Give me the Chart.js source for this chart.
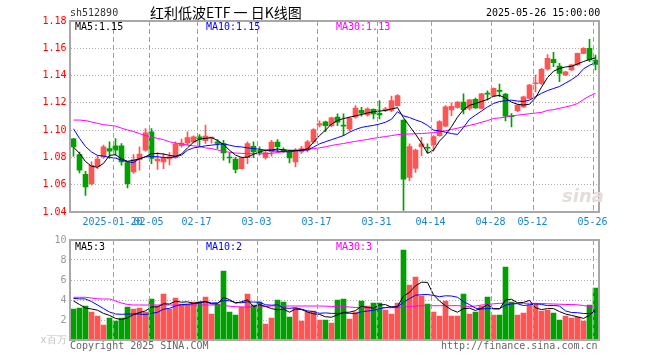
<!DOCTYPE html>
<html>
<head>
<meta charset="utf-8">
<title>红利低波ETF 日K线图</title>
<script src="https://cdn.jsdelivr.net/npm/chart.js@4.4.1/dist/chart.umd.min.js"></script>
<style>
  html, body { margin: 0; padding: 0; background: #fff; }
  #wrap { position: relative; width: 660px; height: 360px; overflow: hidden; font: 10px "DejaVu Sans Mono", monospace; }
  canvas { position: absolute; left: 0; }
  .txt { position: absolute; white-space: nowrap; line-height: 12px; }
</style>
</head>
<body>
<div id="wrap">
  <canvas id="kline" width="660" height="232" style="top:0"></canvas>
  <canvas id="vol" width="660" height="130" style="top:230px"></canvas>
  <div class="txt" style="left:562px;top:186px;font:italic bold 18px 'DejaVu Sans',sans-serif;line-height:20px;color:#e6dcdc">sina</div>
  <div class="txt" style="left:70px;top:7px;color:#333">sh512890</div>
  <div class="txt" style="left:150px;top:3px;font:14px 'Noto Sans CJK SC',sans-serif;line-height:18px;color:#000">红利低波ETF 一 日K线图</div>
  <div class="txt" style="left:486px;top:7px;color:#000">2025-05-26 15:00:00</div>
  <div class="txt" style="left:75px;top:21px;color:#000">MA5:1.15</div>
  <div class="txt" style="left:206px;top:21px;color:#0000ff">MA10:1.15</div>
  <div class="txt" style="left:336px;top:21px;color:#ff00ff">MA30:1.13</div>
  <div class="txt" style="left:75px;top:241px;color:#000">MA5:3</div>
  <div class="txt" style="left:206px;top:241px;color:#0000ff">MA10:2</div>
  <div class="txt" style="left:336px;top:241px;color:#ff00ff">MA30:3</div>
  <div class="txt" style="left:70px;top:340px;color:#666">Copyright 2025 SINA.COM</div>
  <div class="txt" style="left:441px;top:340px;color:#666">http://finance.sina.com.cn</div>
</div>
<script>
// trading days shown on the chart
const dates = [
  '2025-01-09','2025-01-10','2025-01-13','2025-01-14','2025-01-15','2025-01-16','2025-01-17','2025-01-20','2025-01-21','2025-01-22',
  '2025-01-23','2025-01-24','2025-01-27','2025-02-05','2025-02-06','2025-02-07','2025-02-10','2025-02-11','2025-02-12','2025-02-13',
  '2025-02-14','2025-02-17','2025-02-18','2025-02-19','2025-02-20','2025-02-21','2025-02-24','2025-02-25','2025-02-26','2025-02-27',
  '2025-02-28','2025-03-03','2025-03-04','2025-03-05','2025-03-06','2025-03-07','2025-03-10','2025-03-11','2025-03-12','2025-03-13',
  '2025-03-14','2025-03-17','2025-03-18','2025-03-19','2025-03-20','2025-03-21','2025-03-24','2025-03-25','2025-03-26','2025-03-27',
  '2025-03-28','2025-03-31','2025-04-01','2025-04-02','2025-04-03','2025-04-07','2025-04-08','2025-04-09','2025-04-10','2025-04-11',
  '2025-04-14','2025-04-15','2025-04-16','2025-04-17','2025-04-18','2025-04-21','2025-04-22','2025-04-23','2025-04-24','2025-04-25',
  '2025-04-28','2025-04-29','2025-04-30','2025-05-06','2025-05-07','2025-05-08','2025-05-09','2025-05-12','2025-05-13','2025-05-14',
  '2025-05-15','2025-05-16','2025-05-19','2025-05-20','2025-05-21','2025-05-22','2025-05-23','2025-05-26'
];
const tickDates = ['2025-01-20','2025-02-05','2025-02-17','2025-03-03','2025-03-17','2025-03-31','2025-04-14','2025-04-28','2025-05-12','2025-05-26'];
const tickLabels = ['2025-01-20','02-05','02-17','03-03','03-17','03-31','04-14','04-28','05-12','05-26'];

const opens = [
  1.0936,1.0821,1.0677,1.0608,1.0735,1.0804,1.0865,1.0885,1.0885,1.0762,
  1.0694,1.0784,1.0853,1.0988,1.0775,1.0767,1.0790,1.0799,1.0887,1.0907,
  1.0914,1.0951,1.0922,1.0942,1.0914,1.0902,1.0800,1.0787,1.0718,1.0799,
  1.0882,1.0853,1.0799,1.0841,1.0912,1.0858,1.0841,1.0767,1.0841,1.0853,
  1.0914,1.1037,1.1061,1.1032,1.1095,1.1038,1.1009,1.1095,1.1146,1.1112,
  1.1153,1.1124,1.1144,1.1144,1.1180,1.1074,1.0654,1.0720,1.0879,1.0872,
  1.0894,1.0960,1.1030,1.1149,1.1166,1.1205,1.1159,1.1225,1.1160,1.1268,
  1.1250,1.1288,1.1264,1.1102,1.1142,1.1171,1.1233,1.1340,1.1343,1.1448,
  1.1519,1.1470,1.1404,1.1441,1.1478,1.1563,1.1600,1.1514
];
const highs = [
  1.0940,1.0840,1.0699,1.0767,1.0811,1.0890,1.0914,1.0939,1.0902,1.0767,
  1.0821,1.0878,1.1012,1.1012,1.0836,1.0828,1.0835,1.0914,1.0935,1.0988,
  1.0958,1.0968,1.1037,1.0950,1.0931,1.0926,1.0833,1.0800,1.0802,1.0914,
  1.0914,1.0877,1.0848,1.0926,1.0931,1.0870,1.0853,1.0865,1.0882,1.0926,
  1.1012,1.1069,1.1066,1.1095,1.1119,1.1120,1.1095,1.1180,1.1168,1.1163,
  1.1156,1.1217,1.1168,1.1249,1.1261,1.1074,1.0899,1.0862,1.0948,1.0899,
  1.0960,1.1070,1.1180,1.1200,1.1210,1.1266,1.1225,1.1235,1.1270,1.1289,
  1.1310,1.1338,1.1270,1.1122,1.1190,1.1250,1.1335,1.1404,1.1453,1.1553,
  1.1571,1.1490,1.1432,1.1480,1.1565,1.1605,1.1666,1.1551
];
const lows = [
  1.0809,1.0686,1.0522,1.0596,1.0718,1.0792,1.0792,1.0816,1.0743,1.0576,
  1.0682,1.0706,1.0846,1.0755,1.0713,1.0718,1.0745,1.0792,1.0875,1.0890,
  1.0907,1.0878,1.0902,1.0905,1.0865,1.0780,1.0760,1.0686,1.0715,1.0755,
  1.0799,1.0816,1.0787,1.0809,1.0841,1.0836,1.0760,1.0730,1.0829,1.0841,
  1.0902,1.1024,1.0988,1.1025,1.1033,1.0960,1.0995,1.1087,1.1102,1.1102,
  1.1082,1.1082,1.1136,1.1136,1.1175,1.0412,1.0629,1.0690,1.0813,1.0833,
  1.0845,1.0955,1.1025,1.1107,1.1161,1.1119,1.1147,1.1160,1.1155,1.1220,
  1.1245,1.1245,1.1068,1.1024,1.1135,1.1165,1.1228,1.1281,1.1335,1.1440,
  1.1465,1.1355,1.1399,1.1436,1.1475,1.1560,1.1502,1.1441
];
const closes = [
  1.0877,1.0706,1.0584,1.0743,1.0787,1.0878,1.0846,1.0853,1.0767,1.0608,
  1.0784,1.0824,1.0980,1.0792,1.0787,1.0799,1.0805,1.0897,1.0905,1.0946,
  1.0951,1.0934,1.0956,1.0946,1.0902,1.0833,1.0796,1.0713,1.0797,1.0902,
  1.0841,1.0833,1.0836,1.0912,1.0878,1.0846,1.0797,1.0853,1.0865,1.0914,
  1.1005,1.1049,1.1032,1.1091,1.1058,1.1030,1.1087,1.1161,1.1124,1.1156,
  1.1119,1.1112,1.1156,1.1217,1.1254,1.0640,1.0879,1.0853,1.0899,1.0867,
  1.0953,1.1063,1.1170,1.1175,1.1205,1.1150,1.1222,1.1163,1.1266,1.1264,
  1.1306,1.1284,1.1103,1.1098,1.1184,1.1245,1.1331,1.1345,1.1446,1.1527,
  1.1495,1.1416,1.1428,1.1478,1.1563,1.1600,1.1514,1.1482
];
const ma5 = [
  1.0875,1.0830,1.0770,1.0735,1.0728,1.0756,1.0815,1.0820,1.0790,1.0772,
  1.0778,1.0790,1.0805,1.0828,1.0829,1.0825,1.0815,1.0808,1.0825,1.0870,
  1.0912,1.0933,1.0940,1.0945,1.0925,1.0895,1.0853,1.0817,1.0800,1.0802,
  1.0823,1.0840,1.0853,1.0855,1.0862,1.0855,1.0852,1.0852,1.0853,1.0862,
  1.0912,1.0960,1.1000,1.1045,1.1070,1.1085,1.1095,1.1105,1.1115,1.1126,
  1.1135,1.1140,1.1144,1.1155,1.1165,1.1090,1.1030,1.0970,1.0905,1.0830,
  1.0853,1.0920,1.0965,1.1025,1.1095,1.1150,1.1182,1.1195,1.1210,1.1225,
  1.1248,1.1255,1.1235,1.1205,1.1190,1.1184,1.1190,1.1237,1.1315,1.1385,
  1.1432,1.1452,1.1463,1.1468,1.1485,1.1503,1.1518,1.1530
];
const ma10 = [
  1.1010,1.0940,1.0880,1.0840,1.0815,1.0810,1.0800,1.0795,1.0780,1.0768,
  1.0762,1.0790,1.0805,1.0805,1.0805,1.0800,1.0798,1.0805,1.0817,1.0853,
  1.0870,1.0877,1.0885,1.0890,1.0895,1.0900,1.0890,1.0880,1.0877,1.0870,
  1.0865,1.0860,1.0853,1.0850,1.0846,1.0843,1.0841,1.0848,1.0853,1.0855,
  1.0875,1.0900,1.0915,1.0930,1.0945,1.0960,1.0985,1.1005,1.1020,1.1028,
  1.1035,1.1045,1.1058,1.1080,1.1135,1.1105,1.1092,1.1075,1.1060,1.1035,
  1.1000,1.0995,1.0985,1.0975,1.0968,1.1020,1.1080,1.1110,1.1140,1.1170,
  1.1195,1.1210,1.1215,1.1220,1.1213,1.1210,1.1220,1.1245,1.1270,1.1290,
  1.1305,1.1320,1.1345,1.1370,1.1400,1.1450,1.1475,1.1495
];
const ma30 = [
  1.1074,1.1074,1.1070,1.1060,1.1050,1.1040,1.1035,1.1030,1.1015,1.1001,
  1.0990,1.0975,1.0960,1.0950,1.0940,1.0930,1.0915,1.0905,1.0900,1.0890,
  1.0885,1.0880,1.0870,1.0865,1.0855,1.0845,1.0838,1.0832,1.0830,1.0828,
  1.0828,1.0826,1.0826,1.0830,1.0836,1.0841,1.0843,1.0846,1.0852,1.0858,
  1.0865,1.0870,1.0878,1.0888,1.0895,1.0902,1.0910,1.0918,1.0925,1.0932,
  1.0940,1.0947,1.0953,1.0960,1.0967,1.0970,1.0972,1.0973,1.0975,1.0978,
  1.0982,1.0988,1.0996,1.1005,1.1014,1.1025,1.1035,1.1045,1.1058,1.1070,
  1.1085,1.1090,1.1095,1.1105,1.1110,1.1115,1.1120,1.1125,1.1130,1.1145,
  1.1150,1.1160,1.1170,1.1180,1.1195,1.1225,1.1250,1.1270
];

// volume, in millions of shares
const volumes = [
  3.1,3.2,3.4,2.8,2.4,1.5,2.2,1.9,2.2,3.3,
  3.1,3.2,2.8,4.1,3.4,4.6,3.1,4.2,3.6,3.6,
  3.8,3.8,4.3,2.6,3.6,6.9,2.8,2.5,3.3,4.6,
  3.5,3.8,1.6,2.2,4.0,3.8,2.3,3.2,1.9,2.8,
  2.9,2.0,2.0,1.7,4.0,4.1,2.1,2.8,3.9,3.4,
  3.7,3.7,3.0,2.6,3.7,9.0,5.5,6.3,4.4,3.6,
  2.8,2.4,3.9,2.4,2.4,4.6,2.6,2.8,3.4,4.3,
  2.5,2.5,7.3,3.8,2.5,2.7,3.5,3.6,2.9,3.0,
  2.7,2.0,2.4,2.2,2.3,1.9,3.5,5.2
];
const volMa5 = [
  3.9,3.55,3.2,3.1,2.98,2.66,2.46,2.16,2.04,2.22,
  2.54,2.74,2.92,3.3,3.32,3.62,3.6,3.88,3.78,3.82,
  3.66,3.8,3.82,3.62,3.62,4.24,4.04,3.68,3.82,4.02,
  3.34,3.54,3.36,3.14,3.02,3.08,2.78,3.1,3.04,2.8,
  2.62,2.56,2.32,2.28,2.52,2.76,2.78,2.94,3.38,3.26,
  3.18,3.5,3.54,3.28,3.34,4.4,4.76,5.42,5.78,5.76,
  4.52,3.9,3.42,3.02,2.78,3.14,3.18,2.96,3.16,3.54,
  3.12,3.1,4.0,4.08,3.72,3.76,3.96,3.22,3.04,3.14,
  3.14,2.84,2.6,2.46,2.32,2.16,2.46,3.02
];
const volMa10 = [
  4.15,4.12,4.1,3.85,3.5,3.15,2.8,2.6,2.57,2.6,
  2.6,2.6,2.54,2.67,2.77,3.08,3.17,3.4,3.54,3.57,
  3.64,3.7,3.85,3.7,3.72,3.95,3.92,3.75,3.72,3.82,
  3.79,3.79,3.52,3.48,3.52,3.21,3.16,3.23,3.09,2.91,
  2.85,2.67,2.71,2.66,2.66,2.69,2.67,2.63,2.83,2.89,
  2.97,3.14,3.24,3.33,3.3,3.79,4.13,4.48,4.53,4.55,
  4.46,4.33,4.42,4.4,4.27,3.83,3.54,3.19,3.09,3.16,
  3.13,3.14,3.48,3.62,3.63,3.44,3.53,3.61,3.56,3.43,
  3.45,3.4,2.91,2.75,2.73,2.65,2.65,2.81
];
const volMa30 = [
  4.27,4.27,4.27,4.2,4.12,4.1,4.1,3.9,3.7,3.55,
  3.5,3.5,3.5,3.5,3.5,3.5,3.5,3.5,3.5,3.5,
  3.5,3.5,3.5,3.5,3.5,3.45,3.38,3.33,3.3,3.3,
  3.3,3.3,3.35,3.4,3.43,3.4,3.4,3.4,3.4,3.4,
  3.4,3.4,3.38,3.36,3.35,3.33,3.3,3.25,3.23,3.23,
  3.23,3.23,3.23,3.23,3.23,3.3,3.35,3.4,3.43,3.43,
  3.43,3.43,3.43,3.43,3.43,3.4,3.35,3.4,3.5,3.55,
  3.62,3.67,3.67,3.67,3.67,3.67,3.67,3.67,3.65,3.62,
  3.6,3.58,3.55,3.55,3.52,3.45,3.35,3.25
];

const priceMin = 1.04, priceMax = 1.18, priceStep = 0.02;
const volMax = 10, volStep = 2;

const RED = '#ff5454';
const GREEN = '#00a000';
const GRID = '#b0b0b0';

const candleColor = closes.map((c, i) => (c >= opens[i] ? RED : GREEN));
const labelAt = new Map(tickDates.map((d, k) => [dates.indexOf(d), tickLabels[k]]));

Chart.defaults.font.family = "'DejaVu Sans Mono', monospace";
Chart.defaults.font.size = 10;

// dashed lines at the labelled days, then the gray box round the plot
const frame = {
  id: 'frame',
  afterDraw(chart) {
    const { ctx, chartArea: a } = chart;
    const x = chart.scales.x;
    const l = Math.floor(a.left), t = Math.round(a.top);
    const r = Math.ceil(a.right), b = Math.round(a.bottom);
    ctx.save();
    ctx.fillStyle = '#a0a0a0';
    labelAt.forEach((label, i) => {
      const px = Math.floor(x.getPixelForValue(i) - 2.5);
      for (let y = t; y < b; y += 8) {
        ctx.fillRect(px, y, 1, Math.min(5, b - y));
      }
    });
    ctx.strokeStyle = '#a8a8a8';
    ctx.lineWidth = 2;
    ctx.strokeRect(l, t, r - l, b - t);
    ctx.restore();
  }
};

function xAxis(showLabels) {
  return {
    type: 'category',
    offset: true,
    grid: { display: false, drawTicks: false },
    border: { display: false },
    ticks: {
      display: showLabels,
      autoSkip: false,
      maxRotation: 0,
      padding: 4,
      labelOffset: -3,
      color: '#1a84cc',
      callback: (v, i) => (labelAt.has(i) ? labelAt.get(i) : '')
    },
    afterFit: s => { s.height = showLabels ? 20 : 0; }
  };
}

function maLine(data, color) {
  return { type: 'line', data, borderColor: color, borderWidth: 1, pointRadius: 0, tension: 0, order: 0 };
}

const common = {
  responsive: false,
  devicePixelRatio: 1,
  animation: false,
  events: [],
  plugins: { legend: { display: false }, tooltip: { enabled: false } }
};

new Chart(document.getElementById('kline'), {
  data: {
    labels: dates,
    datasets: [
      maLine(ma5, '#000000'),
      maLine(ma10, '#0000ff'),
      maLine(ma30, '#ff00ff'),
      {
        type: 'bar',
        data: opens.map((o, i) => [o, closes[i]]),
        backgroundColor: candleColor,
        barThickness: 5,
        minBarLength: 1,
        grouped: false,
        order: 1
      },
      {
        type: 'bar',
        data: lows.map((l, i) => [l, highs[i]]),
        backgroundColor: candleColor,
        barThickness: 1,
        grouped: false,
        order: 2
      }
    ]
  },
  options: {
    ...common,
    layout: { padding: { top: 21, right: 61.5, bottom: 0, left: 0.5 } },
    scales: {
      x: xAxis(true),
      y: {
        min: priceMin,
        max: priceMax,
        grid: { color: GRID, drawTicks: false },
        border: { display: false, dash: [1, 2] },
        ticks: { stepSize: priceStep, color: '#ff0000', padding: 4, callback: v => v.toFixed(2) },
        afterFit: s => { s.width = 70; }
      }
    }
  },
  plugins: [frame]
});

new Chart(document.getElementById('vol'), {
  data: {
    labels: dates,
    datasets: [
      maLine(volMa5, '#000000'),
      maLine(volMa10, '#0000ff'),
      maLine(volMa30, '#ff00ff'),
      {
        type: 'bar',
        data: volumes,
        backgroundColor: candleColor,
        barThickness: 5,
        grouped: false,
        order: 1
      }
    ]
  },
  options: {
    ...common,
    layout: { padding: { top: 10, right: 61.5, bottom: 20, left: 0.5 } },
    scales: {
      x: xAxis(false),
      y: {
        min: 0,
        max: volMax,
        grid: { color: GRID, drawTicks: false },
        border: { display: false, dash: [1, 2] },
        ticks: {
          stepSize: volStep,
          padding: 4,
          color: c => (c.tick && c.tick.value === 0 ? '#c0c0c0' : '#999999'),
          callback: v => (v === 0 ? 'x百万' : String(v))
        },
        afterFit: s => { s.width = 70; }
      }
    }
  },
  plugins: [frame]
});
</script>
</body>
</html>
